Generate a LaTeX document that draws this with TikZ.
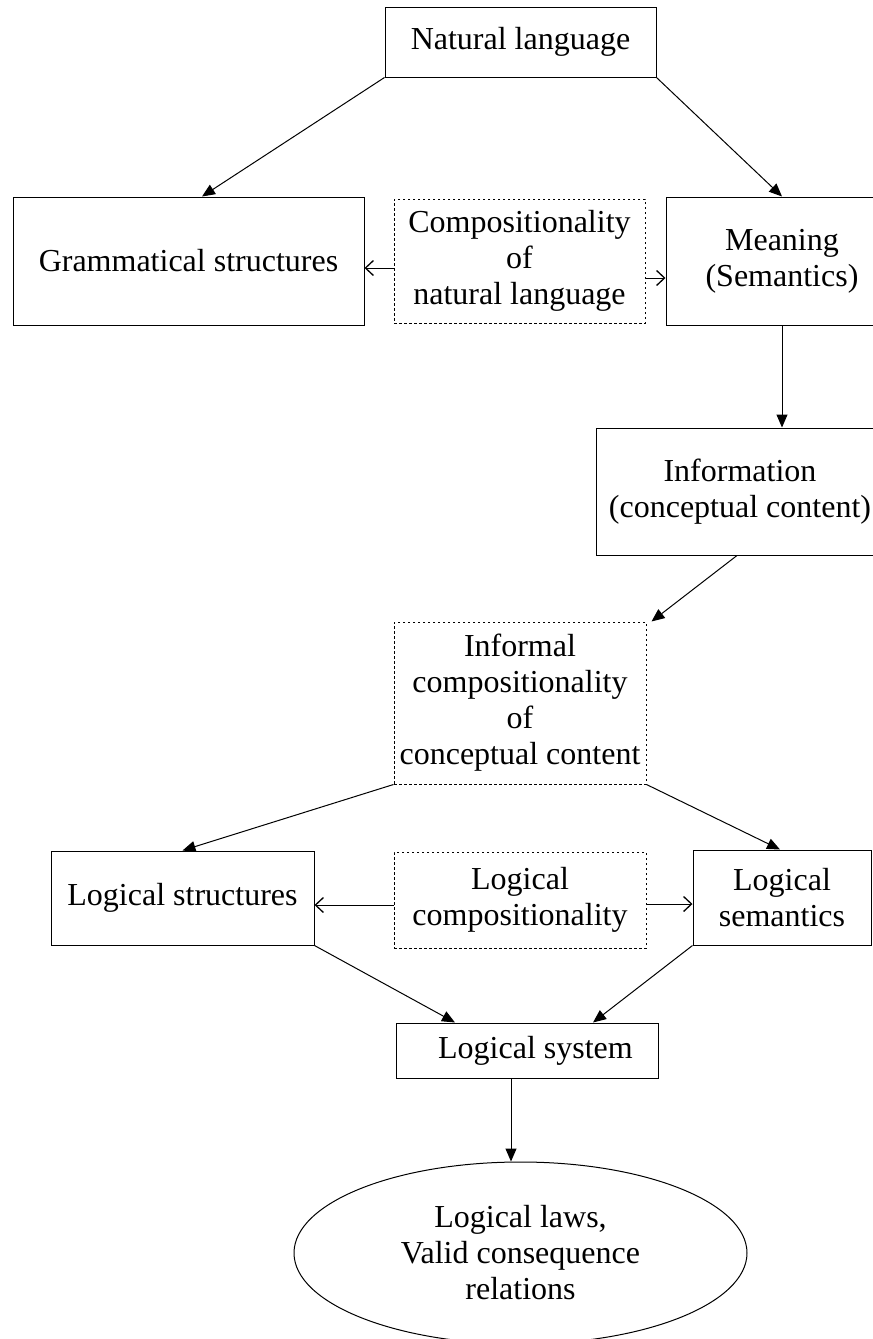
\documentclass[tikz,border=0pt]{standalone}
\usepackage{fontspec}
\setmainfont{Liberation Serif}
\usetikzlibrary{arrows.meta,shapes.geometric}

\begin{document}
\begin{tikzpicture}[x=1pt,y=-1pt,
    font=\fontsize{32}{36}\selectfont,
    box/.style={draw,line width=1pt,inner sep=0pt,align=center},
    dashbox/.style={box,dashed,dash pattern=on 2.5pt off 2.5pt},
    flow/.style={line width=1pt,-{Triangle[length=13pt,width=11pt]}},
    link/.style={line width=1pt,-{Straight Barb[length=8pt,width=15pt,line width=1.3pt]}}]
  \useasboundingbox (0,0) rectangle (873,1339);

  % top row
  \node[box,minimum width=271pt,minimum height=70pt] (natlang) at (520.5,42) {Natural language};
  \node[box,minimum width=351pt,minimum height=128pt] (gram) at (188.5,261) {Grammatical structures};
  \node[dashbox,minimum width=251pt,minimum height=124pt] (natcomp) at (519.5,261)
    {Compositionality\\of\\natural language};
  \node[box,minimum width=232pt,minimum height=128pt] (meaning) at (782,261) {Meaning\\(Semantics)};
  \node[box,minimum width=288pt,minimum height=127pt] (info) at (740,491.5)
    {Information\\(conceptual content)};

  % middle
  \node[dashbox,minimum width=252pt,minimum height=162pt] (informal) at (520,703)
    {Informal\\compositionality\\of\\conceptual content};
  \node[box,minimum width=263pt,minimum height=94pt] (logstruct) at (182.5,898) {Logical structures};
  \node[dashbox,minimum width=252pt,minimum height=96pt] (logcomp) at (520,900)
    {Logical\\compositionality};
  \node[box,minimum width=178pt,minimum height=95pt] (logsem) at (782,897.5) {Logical\\semantics};

  % bottom
  \node[box,minimum width=262pt,minimum height=55pt] (logsys) at (527,1050.5) {\hspace*{17pt}Logical system};
  \node[draw,ellipse,line width=1pt,inner sep=0pt,align=center,
    minimum width=453pt,minimum height=182pt] (laws) at (520.5,1253)
    {Logical laws,\\Valid consequence\\relations};

  % connectors
  \draw[flow] (natlang.south west) -- ([xshift=13.5pt]gram.north);
  \draw[flow] (natlang.south east) -- (meaning.north);
  \draw[link] ([yshift=-7pt]natcomp.west) -- ([yshift=-7pt]gram.east);
  \draw[link] ([yshift=-17pt]natcomp.east) -- ([yshift=-17pt]meaning.west);
  \draw[flow] (meaning.south) -- (meaning.south |- info.north);
  \draw[flow] ([xshift=-3pt]info.south) -- ([xshift=5pt]informal.north east);
  \draw[flow] (informal.south west) -- (logstruct.north);
  \draw[flow] (informal.south east) -- ([xshift=-2pt]logsem.north);
  \draw[link] ([yshift=-5pt]logcomp.west) -- ([yshift=-5pt]logcomp.west -| logstruct.east);
  \draw[link] ([yshift=-4pt]logcomp.east) -- ([yshift=-4pt]logcomp.east -| logsem.west);
  \draw[flow] (logstruct.south east) -- ([xshift=-72pt]logsys.north);
  \draw[flow] (logsem.south west) -- ([xshift=66pt]logsys.north);
  \draw[flow] ([xshift=-16pt]logsys.south) -- ([xshift=-16pt]logsys.south |- laws.north);
\end{tikzpicture}
\end{document}
